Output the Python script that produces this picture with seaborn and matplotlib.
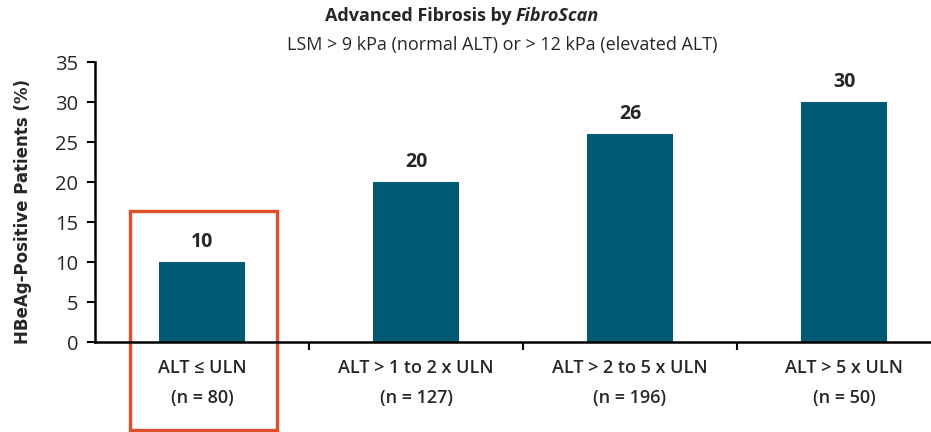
import matplotlib
matplotlib.use("Agg")
import matplotlib.pyplot as plt
from matplotlib.patches import Rectangle
import seaborn as sns
import pandas as pd

categories = ["ALT \u2264 ULN\n(n = 80)", "ALT > 1 to 2 x ULN\n(n = 127)",
              "ALT > 2 to 5 x ULN\n(n = 196)", "ALT > 5 x ULN\n(n = 50)"]
values = [10, 20, 26, 30]
y_ticks = [0, 5, 10, 15, 20, 25, 30, 35]

sns.set_theme(style="ticks")
plt.rcParams["font.family"] = ["Open Sans", "DejaVu Sans"]

df = pd.DataFrame({"group": categories, "pct": values})

fig = plt.figure(figsize=(9.31, 4.32), dpi=100)
ax = fig.add_axes([95 / 931, 90 / 432, 856 / 931, 280 / 432])

sns.barplot(data=df, x="group", y="pct", color="#005A73", width=0.4,
            saturation=1, ax=ax, edgecolor="none")

ax.set_xlim(-0.5, 3.5)
ax.set_ylim(0, 35)
ax.set_yticks(y_ticks)
ax.set_yticklabels([str(t) for t in y_ticks], fontsize=14.5)
ax.set_xlabel("")
ax.set_ylabel("HBeAg-Positive Patients (%)", fontsize=12, fontweight="bold",
              family="DejaVu Sans")
ax.yaxis.set_label_coords(-0.074, 0.465)

# category labels without ticks, boundary ticks as minor ticks
ax.tick_params(axis="x", which="major", length=0, pad=12, labelsize=13)
for lbl in ax.get_xticklabels():
    lbl.set_linespacing(1.85)
    lbl.set_fontweight("semibold")
ax.set_xticks([0.5, 1.5, 2.5], minor=True)
ax.tick_params(axis="x", which="minor", length=6, width=1.5, color="black",
               direction="out")
ax.tick_params(axis="y", length=6, width=1.5, color="black", pad=6)

for s in ["top", "right"]:
    ax.spines[s].set_visible(False)
for s in ["left", "bottom"]:
    ax.spines[s].set_linewidth(1.8)
    ax.spines[s].set_color("black")

# value labels
for i, v in enumerate(values):
    ax.text(i, v + 1.3, f"{v}", ha="center", va="bottom", fontsize=14,
            fontweight="bold")

# highlight box around the first group
ax.add_patch(Rectangle((-0.336, -11.0), 0.686, 27.4, fill=False,
                       edgecolor="#E04E2A", linewidth=2.4, clip_on=False))

# titles
fig.text(516 / 931, 1 - 16 / 432, "Advanced Fibrosis by ", ha="right",
         va="center", fontsize=13, fontweight="bold")
fig.text(516 / 931, 1 - 16 / 432, "FibroScan", ha="left", va="center",
         fontsize=13, fontweight="bold", fontstyle="italic")
fig.text(502 / 931, 1 - 45 / 432,
         "LSM > 9 kPa (normal ALT) or > 12 kPa (elevated ALT)",
         ha="center", va="center", fontsize=13)

fig.savefig("out.png", dpi=100)
